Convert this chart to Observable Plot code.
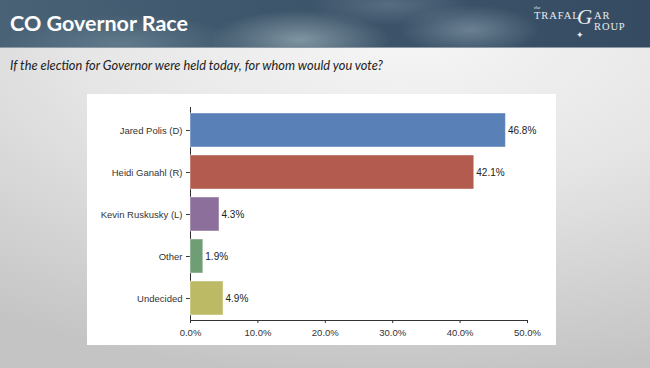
<!DOCTYPE html>
<html>
<head>
<meta charset="utf-8">
<script src="https://cdn.jsdelivr.net/npm/d3@7"></script>
<script src="https://cdn.jsdelivr.net/npm/@observablehq/plot@0.6"></script>
<style>
  html, body { margin: 0; padding: 0; }
  #slide {
    position: relative; width: 650px; height: 368px; overflow: hidden;
    background: radial-gradient(ellipse 110% 95% at 62% 8%, #f6f6f6 0%, #e6e6e6 45%, #c4c4c4 100%);
    font-family: Lato, "Open Sans", sans-serif;
  }
  #header {
    position: absolute; left: 0; top: 0; width: 650px; height: 47px;
    background:
      radial-gradient(ellipse 90px 30px at 300px 40px, rgba(150,170,180,0.75), rgba(150,170,180,0) 100%),
      radial-gradient(ellipse 70px 25px at 470px 30px, rgba(140,160,175,0.6), rgba(140,160,175,0) 100%),
      radial-gradient(ellipse 120px 30px at 120px 44px, rgba(120,145,160,0.55), rgba(120,145,160,0) 100%),
      radial-gradient(ellipse 80px 20px at 390px 5px, rgba(120,140,160,0.45), rgba(120,140,160,0) 100%),
      linear-gradient(90deg, #4a6276 0%, #3e566b 40%, #3a5167 70%, #354b61 100%);
    border-bottom: 1px solid #8c9aa6;
  }
  #title {
    position: absolute; left: 10px; top: 10px; color: #fff;
    font-family: Lato, sans-serif; font-weight: 700; font-size: 21.5px;
    white-space: nowrap;
  }
  #subtitle {
    position: absolute; left: 10px; top: 57px; color: #222;
    font-family: Lato, sans-serif; font-style: italic; font-size: 12.8px; white-space: nowrap;
  }
  .logo { position: absolute; color: #e8ecef; font-family: "Liberation Serif", "DejaVu Serif", serif; white-space: nowrap; line-height: 1; }
  #box { position: absolute; left: 87px; top: 94px; width: 469px; height: 251px; background: #fff; }
</style>
</head>
<body>
<div id="slide">
  <div id="header"></div>
  <div id="title">CO Governor Race</div>
  <div id="subtitle">If the election for Governor were held today, for whom would you vote?</div>
  <div class="logo" style="left:534px;top:5px;font-size:5px;font-style:italic;">the</div>
  <div class="logo" style="left:534px;top:11px;font-size:10.5px;letter-spacing:0.9px;">TRAFAL</div>
  <div class="logo" style="left:577px;top:7px;font-size:21px;font-style:italic;">G</div>
  <div class="logo" style="left:594px;top:11px;font-size:10.5px;letter-spacing:0.9px;">AR</div>
  <div class="logo" style="left:594px;top:22px;font-size:10.5px;letter-spacing:0.9px;">ROUP</div>
  <div class="logo" style="left:576px;top:31px;font-size:9px;">✦</div>
  <div id="box"></div>
</div>
<script>
const candidates = ["Jared Polis (D)", "Heidi Ganahl (R)", "Kevin Ruskusky (L)", "Other", "Undecided"];
const shares = [46.8, 42.1, 4.3, 1.9, 4.9];
const xTicks = [0, 10, 20, 30, 40, 50];
const barColors = ["#5a80b8", "#b45b50", "#8d6f9b", "#6f9e75", "#bdba66"];

const data = candidates.map((name, i) => ({name, share: shares[i]}));

const chart = Plot.plot({
  width: 469,
  height: 251,
  marginLeft: 103,
  marginRight: 29,
  marginTop: 13,
  marginBottom: 25,
  style: {fontFamily: "'Liberation Sans', Arial, sans-serif", fontSize: "9.5px", color: "#333", background: "transparent", overflow: "visible"},
  x: {domain: [0, 50], ticks: xTicks, tickFormat: d => d.toFixed(1) + "%", tickSize: 3, tickPadding: 6, line: true, label: null},
  y: {domain: candidates, paddingInner: 0.2, paddingOuter: 0.08, tickSize: 4, tickPadding: 4, line: true, label: null},
  color: {domain: candidates, range: barColors},
  marks: [
    Plot.barX(data, {x: "share", y: "name", fill: "name", stroke: "#ffffff", strokeOpacity: 0.45, strokeWidth: 1}),
    Plot.text(data, {x: "share", y: "name", text: d => d.share.toFixed(1) + "%", dx: 2, textAnchor: "start", fill: "#222", fontSize: 10})
  ]
});
chart.style.position = "absolute";
chart.style.left = "87px";
chart.style.top = "94px";
document.getElementById("slide").appendChild(chart);
</script>
</body>
</html>
